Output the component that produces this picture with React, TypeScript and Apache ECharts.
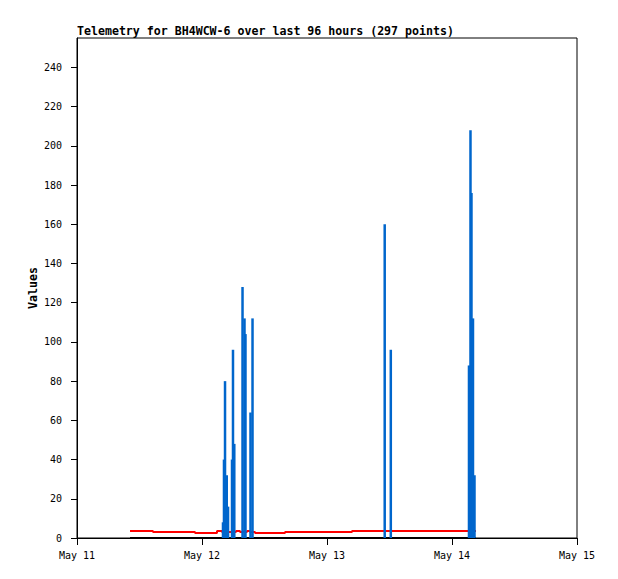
import React, { useEffect, useRef } from "react";
import * as echarts from "echarts";

// Hours since May 11 00:00
const xTickLabels = ["May 11", "May 12", "May 13", "May 14", "May 15"];
const yTickValues = [0, 20, 40, 60, 80, 100, 120, 140, 160, 180, 200, 220, 240];

// Blue impulses: [hour, value]
const impulseHours = [
  28.03, 28.22, 28.42, 28.75, 29.0,
  29.76, 29.95, 30.2,
  31.78, 32.16, 32.35,
  33.31, 33.7,
  59.08, 60.25,
  75.26, 75.55, 75.74, 76.03, 76.32,
];
const impulseValues = [
  8, 40, 80, 32, 16,
  40, 96, 48,
  128, 112, 104,
  64, 112,
  160, 96,
  88, 208, 176, 112, 32,
];

// Red line (step): [hour, value]
const redHours = [10.18, 14.59, 22.66, 26.88, 27.84, 30.53, 31.3, 32.64, 33.22, 34.18, 39.94, 52.8, 76.61];
const redValues = [3.6, 3.1, 2.6, 3.6, 3.1, 3.6, 3.1, 3.6, 3.1, 2.6, 3.1, 3.6, 3.6];

// Black line
const blackHours = [10.18, 76.61];
const blackValues = [0, 0];

const FONT = "DejaVu Sans Mono";

export default function App() {
  const ref = useRef<HTMLDivElement>(null);
  useEffect(() => {
    if (!ref.current) return;
    const chart = echarts.init(ref.current, null, { renderer: "svg" });
    chart.setOption({
      animation: false,
      backgroundColor: "#ffffff",
      title: {
        text: "Telemetry for BH4WCW-6 over last 96 hours (297 points)",
        left: 77,
        top: 25,
        padding: 0,
        textStyle: { fontFamily: FONT, fontSize: 11.6, fontWeight: "bold", color: "#000" },
      },
      grid: {
        left: 77,
        top: 38,
        width: 500,
        height: 500,
        show: true,
        borderColor: "#000",
        borderWidth: 1,
        backgroundColor: "transparent",
      },
      xAxis: {
        type: "value",
        min: 0,
        max: 96,
        interval: 24,
        splitLine: { show: false },
        axisLine: { show: true, onZero: false, lineStyle: { color: "#000", width: 1 } },
        axisTick: { show: true, inside: false, length: 7, lineStyle: { color: "#000" } },
        axisLabel: {
          margin: 12,
          fontFamily: FONT,
          fontSize: 10,
          color: "#000",
          formatter: (v: number) => xTickLabels[Math.round(v / 24)] ?? "",
        },
      },
      yAxis: {
        type: "value",
        min: 0,
        max: 255,
        interval: 20,
        name: "Values",
        nameLocation: "middle",
        nameGap: 38,
        nameMoveOverlap: false,
        nameRotate: 90,
        nameTextStyle: { fontFamily: FONT, fontSize: 11.6, fontWeight: "bold", color: "#000" },
        splitLine: { show: false },
        axisLine: { show: true, lineStyle: { color: "#000", width: 1 } },
        axisTick: { show: true, inside: false, length: 6, customValues: yTickValues, lineStyle: { color: "#000" } },
        axisLabel: {
          margin: 15,
          customValues: yTickValues,
          fontFamily: FONT,
          fontSize: 10,
          color: "#000",
        },
      },
      series: [
        {
          type: "line",
          data: blackHours.map((h, i) => [h, blackValues[i]]),
          symbol: "none",
          clip: false,
          lineStyle: { color: "#000000", width: 2 },
          z: 2,
        },
        {
          type: "line",
          step: "end",
          data: redHours.map((h, i) => [h, redValues[i]]),
          symbol: "none",
          lineStyle: { color: "#ff0000", width: 2 },
          z: 3,
        },
        {
          type: "bar",
          data: impulseHours.map((h, i) => [h, impulseValues[i]]),
          barWidth: 2.5,
          itemStyle: { color: "#0066cc" },
          z: 4,
        },
      ],
    });
    return () => chart.dispose();
  }, []);
  return (
    <div
      ref={ref}
      style={{ position: "fixed", left: 0, top: 0, width: 618, height: 579, background: "#fff" }}
    />
  );
}
